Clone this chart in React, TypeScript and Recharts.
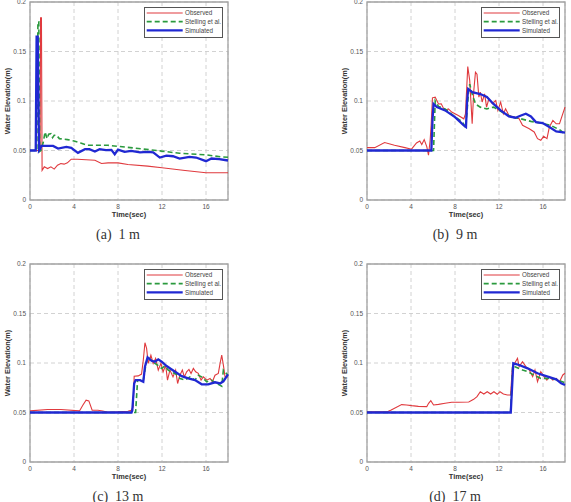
import {
  LineChart,
  Line,
  XAxis,
  YAxis,
  CartesianGrid,
  Legend,
  ReferenceArea,
} from "recharts";

type Pt = [number, number];

const timeTicks = [0, 4, 8, 12, 16];
const levelTicks = [0, 0.05, 0.1, 0.15, 0.2];

// (a) gauge at 1 m
const observed1m: Pt[] = [
  [0, 0.05], [0.92, 0.05], [0.96, 0.184], [1.04, 0.184], [1.1, 0.03],
  [1.3, 0.0335], [1.6, 0.0318], [1.9, 0.0335], [2.2, 0.0312], [2.5, 0.0352],
  [2.8, 0.0369], [3.1, 0.0362], [3.4, 0.0375], [3.75, 0.0412], [4.3, 0.0412],
  [5.9, 0.0402], [6.5, 0.0369], [7.1, 0.0375], [8.0, 0.0375], [8.9, 0.0359],
  [10.7, 0.0342], [12.0, 0.0325], [14.1, 0.0298], [16.0, 0.0275], [18, 0.0275],
];
const stelling1m: Pt[] = [
  [0, 0.05], [0.62, 0.05], [0.72, 0.18], [0.8, 0.18], [0.88, 0.049],
  [1.0, 0.05], [1.2, 0.058], [1.37, 0.0687], [1.55, 0.062], [1.7, 0.0665],
  [1.9, 0.067], [2.05, 0.063], [2.2, 0.0654], [2.4, 0.0655], [2.67, 0.062],
  [3.4, 0.061], [4.0, 0.0596], [4.6, 0.0576], [5.25, 0.0553], [7.06, 0.0553],
  [9.4, 0.0526], [11.8, 0.0496], [13.6, 0.0472], [16.0, 0.0456], [17.4, 0.0435],
  [18, 0.0432],
];
const simulated1m: Pt[] = [
  [0, 0.05], [0.52, 0.05], [0.6, 0.165], [0.7, 0.165], [0.82, 0.05],
  [0.95, 0.052], [1.03, 0.0546], [2.1, 0.0546], [2.55, 0.052], [3.3, 0.0536],
  [3.75, 0.0526], [4.36, 0.0476], [5.0, 0.0513], [5.4, 0.0513], [5.9, 0.049],
  [6.33, 0.0513], [6.9, 0.0503], [7.4, 0.0506], [7.7, 0.0462], [8.0, 0.0509],
  [8.6, 0.0486], [9.2, 0.0496], [10.0, 0.0482], [10.7, 0.0486], [11.2, 0.0482],
  [11.8, 0.0429], [12.4, 0.0449], [13.0, 0.0442], [13.6, 0.0419], [14.5, 0.0436],
  [15.1, 0.0429], [16.0, 0.0392], [16.5, 0.0419], [17.2, 0.0412], [18, 0.0399],
];

// (b) gauge at 9 m
const observed9m: Pt[] = [
  [0, 0.0529], [0.7, 0.0529], [1.6, 0.058], [2.5, 0.0553], [3.45, 0.0529],
  [4.05, 0.0513], [4.5, 0.0576], [4.8, 0.0596], [4.98, 0.056], [5.2, 0.061],
  [5.44, 0.0536], [5.59, 0.0452], [5.74, 0.0603], [5.83, 0.0754], [5.95, 0.1032],
  [6.2, 0.1039], [6.5, 0.097], [6.75, 0.0972], [7.05, 0.0905], [7.4, 0.092],
  [7.7, 0.0888], [8.3, 0.0854], [8.8, 0.082], [8.95, 0.087], [9.16, 0.1347],
  [9.34, 0.1206], [9.56, 0.077], [9.71, 0.1106], [9.86, 0.129], [10.0, 0.127],
  [10.17, 0.1039], [10.3, 0.109], [10.47, 0.099], [10.69, 0.1072], [10.87, 0.0938],
  [11.08, 0.1022], [11.39, 0.0972], [11.7, 0.1005], [11.9, 0.0905], [12.15, 0.0988],
  [12.4, 0.0871], [12.6, 0.0921], [12.9, 0.0854], [13.37, 0.0837], [13.83, 0.082],
  [14.14, 0.0754], [14.44, 0.0737], [14.75, 0.072], [15.2, 0.0687], [15.5, 0.062],
  [15.8, 0.0603], [16.06, 0.0643], [16.36, 0.062], [16.58, 0.0737], [16.9, 0.0804],
  [17.2, 0.077], [17.5, 0.077], [18, 0.0938],
];
const stelling9m: Pt[] = [
  [0, 0.05], [6.05, 0.05], [6.2, 0.1], [6.35, 0.097], [6.5, 0.0945],
  [7.1, 0.092], [8.0, 0.084], [8.7, 0.0787], [8.95, 0.073], [9.1, 0.09],
  [9.25, 0.112], [9.34, 0.117], [9.56, 0.107], [9.86, 0.097], [10.3, 0.0938],
  [10.9, 0.092], [11.5, 0.0938], [12.45, 0.0878], [13.2, 0.0837], [14.0, 0.082],
  [14.9, 0.0794], [15.8, 0.0777], [16.7, 0.0754], [17.6, 0.0704], [18, 0.0663],
];
const simulated9m: Pt[] = [
  [0, 0.05], [5.85, 0.05], [5.95, 0.08], [6.05, 0.097], [6.35, 0.0938],
  [7.1, 0.0905], [8.0, 0.0837], [8.8, 0.0754], [9.0, 0.0737], [9.1, 0.1],
  [9.2, 0.1122], [9.56, 0.1089], [10.3, 0.107], [10.9, 0.104], [11.5, 0.097],
  [12.15, 0.0905], [12.9, 0.0844], [13.5, 0.0831], [14.0, 0.0854], [14.44, 0.0871],
  [14.9, 0.0844], [15.36, 0.0787], [15.97, 0.0777], [16.58, 0.0737], [17.2, 0.0693],
  [18, 0.068],
];

// (c) gauge at 13 m
const observed13m: Pt[] = [
  [0, 0.0516], [1.6, 0.053], [2.8, 0.053], [4.5, 0.0516], [4.8, 0.0574],
  [5.1, 0.0624], [5.35, 0.0617], [5.65, 0.0523], [6.17, 0.0523], [6.62, 0.0516],
  [7.08, 0.0503], [8.0, 0.0506], [8.9, 0.0513], [9.2, 0.0523], [9.38, 0.0557],
  [9.47, 0.0867], [9.84, 0.087], [10.14, 0.0888], [10.3, 0.103], [10.45, 0.1205],
  [10.6, 0.1148], [10.75, 0.0996], [10.99, 0.108], [11.2, 0.0996], [11.42, 0.1047],
  [11.66, 0.0928], [11.9, 0.0996], [12.1, 0.0911], [12.33, 0.0979], [12.5, 0.0827],
  [12.72, 0.0928], [13.0, 0.086], [13.24, 0.0928], [13.42, 0.0793], [13.63, 0.0877],
  [13.85, 0.0928], [14.03, 0.086], [14.24, 0.0911], [14.45, 0.0935], [14.64, 0.0895],
  [14.85, 0.0945], [15.06, 0.0911], [15.3, 0.0895], [15.55, 0.0827], [15.76, 0.086],
  [16.07, 0.0827], [16.37, 0.0844], [16.58, 0.081], [16.82, 0.0877], [17.12, 0.0895],
  [17.28, 0.0996], [17.43, 0.108], [17.58, 0.0979], [17.73, 0.086], [18, 0.086],
];
const stelling13m: Pt[] = [
  [0, 0.05], [9.6, 0.05], [9.78, 0.0827], [10.3, 0.0827], [10.45, 0.0928],
  [10.69, 0.106], [11.0, 0.103], [11.36, 0.0996], [11.7, 0.097], [11.97, 0.0945],
  [12.25, 0.097], [12.57, 0.0928], [12.9, 0.0905], [13.18, 0.0895], [13.4, 0.0875],
  [13.63, 0.0844], [14.09, 0.0827], [14.54, 0.086], [15.0, 0.0827], [15.3, 0.0877],
  [15.6, 0.086], [16.07, 0.081], [16.5, 0.0827], [16.98, 0.0793], [17.43, 0.0766],
  [17.58, 0.0928], [18, 0.0877],
];
const simulated13m: Pt[] = [
  [0, 0.05], [9.23, 0.05], [9.3, 0.052], [9.47, 0.0793], [9.6, 0.0827],
  [10.0, 0.0827], [10.3, 0.081], [10.45, 0.0962], [10.69, 0.1057], [11.05, 0.1022],
  [11.36, 0.1013], [11.66, 0.1037], [11.97, 0.1013], [12.42, 0.0969], [12.88, 0.0935],
  [13.33, 0.0901], [13.79, 0.0867], [14.39, 0.0844], [15.0, 0.0827], [15.61, 0.0785],
  [16.2, 0.0785], [16.82, 0.0805], [17.28, 0.0793], [17.58, 0.0815], [18, 0.0885],
];

// (d) gauge at 17 m
const observed17m: Pt[] = [
  [0, 0.0508], [1.9, 0.051], [2.2, 0.0525], [3.15, 0.058], [3.6, 0.0576],
  [4.06, 0.0569], [4.67, 0.0562], [5.43, 0.0559], [5.6, 0.0593], [5.8, 0.062],
  [6.05, 0.0576], [6.5, 0.0582], [7.1, 0.0593], [7.7, 0.0603], [8.33, 0.0603],
  [9.25, 0.0606], [9.7, 0.0633], [10.0, 0.066], [10.3, 0.071], [10.62, 0.0687],
  [10.93, 0.071], [11.24, 0.0687], [11.54, 0.071], [11.84, 0.0684], [12.09, 0.071],
  [12.4, 0.0687], [12.76, 0.0677], [13.05, 0.0677], [13.22, 0.0963], [13.43, 0.0997],
  [13.68, 0.1047], [13.83, 0.0963], [14.14, 0.1013], [14.44, 0.0963], [14.75, 0.093],
  [15.06, 0.0862], [15.27, 0.093], [15.5, 0.0811], [15.8, 0.0912], [16.1, 0.0862],
  [16.35, 0.0828], [16.58, 0.0862], [16.89, 0.0828], [17.2, 0.0845], [17.5, 0.0811],
  [17.8, 0.0879], [18, 0.0896],
];
const stelling17m: Pt[] = [
  [0, 0.05], [13.05, 0.05], [13.25, 0.097], [13.5, 0.096], [14.14, 0.093],
  [14.6, 0.0912], [15.2, 0.0878], [15.8, 0.0845], [16.43, 0.0845], [17.2, 0.0835],
  [18, 0.08],
];
const simulated17m: Pt[] = [
  [0, 0.05], [13.07, 0.05], [13.3, 0.0997], [13.83, 0.098], [14.6, 0.0946],
  [15.5, 0.0896], [16.43, 0.0862], [17.2, 0.0835], [17.65, 0.0795], [18, 0.0778],
];

const seriesLook = [
  { name: "Observed", color: "#e03a3e", width: 1.1, dash: undefined as string | undefined },
  { name: "Stelling et al.", color: "#2b9a3e", width: 1.6, dash: "5 3" },
  { name: "Simulated", color: "#2028d2", width: 2.3, dash: undefined as string | undefined },
];

const gauges = [
  { caption: "(a)\u20021 m", left: 30, top: 2, series: [observed1m, stelling1m, simulated1m] },
  { caption: "(b)\u20029 m", left: 367, top: 2, series: [observed9m, stelling9m, simulated9m] },
  { caption: "(c)\u200213 m", left: 30, top: 264, series: [observed13m, stelling13m, simulated13m] },
  { caption: "(d)\u200217 m", left: 367, top: 264, series: [observed17m, stelling17m, simulated17m] },
];

const PLOT_W = 198;
const PLOT_H = 198;
const PAD_L = 31;
const PAD_T = 10;
const PAD_R = 10;
const AXIS_H = 26;
const SANS = "'Liberation Sans', Arial, sans-serif";

const toRows = (pts: Pt[]) => pts.map(([t, v]) => ({ t, v }));
const lookIndex = (name: string) => seriesLook.findIndex((s) => s.name === name);

// legend box in the upper right corner, entries kept in series order
function KeyBox({ payload }: any) {
  const items = [...(payload ?? [])].sort(
    (a: any, b: any) => lookIndex(a.value) - lookIndex(b.value),
  );
  return (
    <svg width={79} height={31} style={{ display: "block" }}>
      <rect x={0.5} y={0.5} width={78} height={30} fill="#fff" stroke="#555" strokeWidth={1} />
      {items.map((p: any, i: number) => {
        const look = seriesLook[lookIndex(p.value)] ?? seriesLook[0];
        const cy = 6 + i * 8.65;
        return (
          <g key={p.value}>
            <line
              x1={2.7}
              x2={38.7}
              y1={cy}
              y2={cy}
              stroke={look.color}
              strokeWidth={look.width}
              strokeDasharray={look.dash}
            />
            <text x={41} y={cy} dy="0.35em" fontSize={6.3} fill="#444" fontFamily={SANS}>
              {p.value}
            </text>
          </g>
        );
      })}
    </svg>
  );
}

function Gauge({ g }: { g: (typeof gauges)[number] }) {
  return (
    <div style={{ position: "absolute", left: g.left - PAD_L, top: g.top - PAD_T }}>
      <LineChart
        width={PAD_L + PLOT_W + PAD_R}
        height={PAD_T + PLOT_H + AXIS_H}
        margin={{ top: PAD_T, right: PAD_R, left: 0, bottom: 0 }}
      >
        <CartesianGrid stroke="#cdcdcd" strokeDasharray="4 3" strokeWidth={0.9} />
        <XAxis
          type="number"
          dataKey="t"
          domain={[0, 18]}
          ticks={timeTicks}
          height={AXIS_H}
          axisLine={false}
          tickLine={false}
          tickSize={2}
          tickMargin={2}
          tick={{ fontSize: 6.5, fill: "#555", fontFamily: SANS }}
          label={{
            value: "Time(sec)",
            position: "insideBottom",
            offset: 9,
            style: { fontSize: 7.4, fontWeight: "bold", fill: "#333", fontFamily: SANS },
          }}
        />
        <YAxis
          type="number"
          domain={[0, 0.2]}
          ticks={levelTicks}
          width={PAD_L}
          axisLine={false}
          tickLine={false}
          tickSize={2}
          tickMargin={2}
          tick={{ fontSize: 6.5, fill: "#555", fontFamily: SANS }}
          label={{
            value: "Water Elevation(m)",
            angle: -90,
            position: "insideLeft",
            offset: 8,
            style: {
              textAnchor: "middle",
              fontSize: 7.4,
              fontWeight: "bold",
              fill: "#333",
              fontFamily: SANS,
            },
          }}
        />
        <ReferenceArea x1={0} x2={18} y1={0} y2={0.2} fill="none" stroke="#a3a3a3" strokeWidth={1.3} />
        <Legend
          layout="horizontal"
          verticalAlign="middle"
          align="center"
          width={79}
          height={31}
          wrapperStyle={{ left: PAD_L + 114, top: PAD_T + 5, width: 79, height: 31 }}
          content={<KeyBox />}
        />
        {seriesLook.map((s, i) => (
          <Line
            key={s.name}
            name={s.name}
            data={toRows(g.series[i])}
            dataKey="v"
            type="linear"
            stroke={s.color}
            strokeWidth={s.width}
            strokeDasharray={s.dash}
            dot={false}
            activeDot={false}
            isAnimationActive={false}
          />
        ))}
      </LineChart>
      <div
        style={{
          position: "absolute",
          left: PAD_L + PLOT_W / 2 - 11 - 60,
          top: PAD_T + PLOT_H + 27,
          width: 120,
          textAlign: "center",
          fontFamily: "'Liberation Serif', 'DejaVu Serif', serif",
          fontSize: 14,
          color: "#333",
          whiteSpace: "pre",
          lineHeight: "16px",
        }}
      >
        {g.caption}
      </div>
    </div>
  );
}

export default function App() {
  return (
    <div
      style={{
        position: "absolute",
        left: 0,
        top: 0,
        width: 571,
        height: 502,
        overflow: "hidden",
        background: "#fff",
      }}
    >
      {gauges.map((g) => (
        <Gauge key={g.caption} g={g} />
      ))}
    </div>
  );
}
